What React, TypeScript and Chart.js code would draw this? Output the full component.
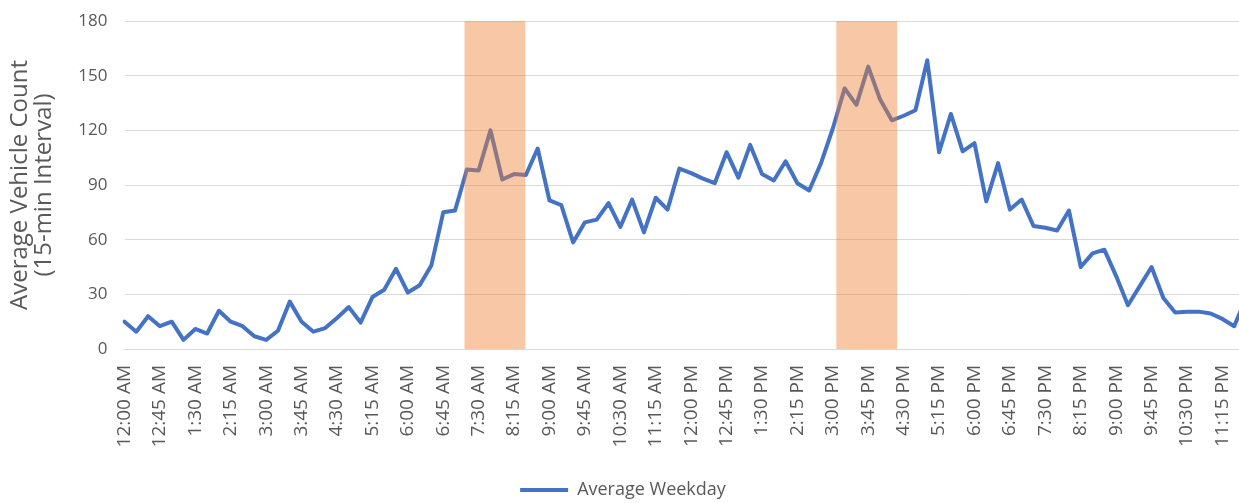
import React, { useEffect, useRef } from "react";
import { Chart, registerables } from "chart.js";

Chart.register(...registerables);

// 15-minute interval categories
const timeLabels = [
  "12:00 AM", "12:15 AM", "12:30 AM", "12:45 AM",
  "1:00 AM", "1:15 AM", "1:30 AM", "1:45 AM",
  "2:00 AM", "2:15 AM", "2:30 AM", "2:45 AM",
  "3:00 AM", "3:15 AM", "3:30 AM", "3:45 AM",
  "4:00 AM", "4:15 AM", "4:30 AM", "4:45 AM",
  "5:00 AM", "5:15 AM", "5:30 AM", "5:45 AM",
  "6:00 AM", "6:15 AM", "6:30 AM", "6:45 AM",
  "7:00 AM", "7:15 AM", "7:30 AM", "7:45 AM",
  "8:00 AM", "8:15 AM", "8:30 AM", "8:45 AM",
  "9:00 AM", "9:15 AM", "9:30 AM", "9:45 AM",
  "10:00 AM", "10:15 AM", "10:30 AM", "10:45 AM",
  "11:00 AM", "11:15 AM", "11:30 AM", "11:45 AM",
  "12:00 PM", "12:15 PM", "12:30 PM", "12:45 PM",
  "1:00 PM", "1:15 PM", "1:30 PM", "1:45 PM",
  "2:00 PM", "2:15 PM", "2:30 PM", "2:45 PM",
  "3:00 PM", "3:15 PM", "3:30 PM", "3:45 PM",
  "4:00 PM", "4:15 PM", "4:30 PM", "4:45 PM",
  "5:00 PM", "5:15 PM", "5:30 PM", "5:45 PM",
  "6:00 PM", "6:15 PM", "6:30 PM", "6:45 PM",
  "7:00 PM", "7:15 PM", "7:30 PM", "7:45 PM",
  "8:00 PM", "8:15 PM", "8:30 PM", "8:45 PM",
  "9:00 PM", "9:15 PM", "9:30 PM", "9:45 PM",
  "10:00 PM", "10:15 PM", "10:30 PM", "10:45 PM",
  "11:00 PM", "11:15 PM", "11:30 PM", "11:45 PM",
];

// Average Weekday vehicle counts (per 15-min interval)
const averageWeekday = [
  15, 9.5, 18, 12.5, 15, 5, 11, 8.5,
  21, 15, 12.5, 7, 5, 10, 26, 15,
  9.5, 11.5, 17, 23, 14.5, 28.5, 32.5, 44,
  31, 35, 46, 75, 76, 98.5, 98, 120,
  93, 96, 95.5, 110, 81.5, 79, 58.5, 69.5,
  71, 80, 67, 82, 64, 83, 76.5, 99,
  96.5, 93.5, 91, 108, 94, 112, 96, 92.5,
  103, 91, 87, 102, 121, 143, 134, 155,
  137, 125.5, 128, 131, 158.5, 108, 129, 108.5,
  113, 81, 102, 76.5, 82, 67.5, 66.5, 65,
  76, 45, 52.5, 54.5, 40, 24, 34.5, 45,
  28, 20, 20.5, 20.5, 19.5, 16.5, 12.5, 28,
];

// Y axis range
const yMin = 0;
const yMax = 180;
const yStep = 30;

// Peak-period windows (in category index units on the time axis)
const peakStart = [28.8, 60.3];
const peakEnd = [33.95, 65.45];

const peakShadePlugin = {
  id: "peakShade",
  afterDatasetsDraw(chart: any) {
    const { ctx, chartArea, scales } = chart;
    const xs = scales.x;
    ctx.save();
    ctx.fillStyle = "rgba(237,125,49,0.43)";
    peakStart.forEach((s, k) => {
      const x0 = xs.getPixelForValue(s);
      const x1 = xs.getPixelForValue(peakEnd[k]);
      ctx.fillRect(x0, chartArea.top, x1 - x0, chartArea.bottom - chartArea.top);
    });
    ctx.restore();
  },
};

export default function App() {
  const canvasRef = useRef<HTMLCanvasElement | null>(null);

  useEffect(() => {
    if (!canvasRef.current) return;
    const font = "'Open Sans', 'Noto Sans', sans-serif";
    const chart = new Chart(canvasRef.current, {
      type: "line",
      data: {
        labels: timeLabels,
        datasets: [
          {
            label: "Average Weekday",
            data: averageWeekday,
            borderColor: "#4472C4",
            backgroundColor: "#4472C4",
            borderWidth: 4,
            pointRadius: 0,
            pointHoverRadius: 0,
            tension: 0,
            borderJoinStyle: "round",
            borderCapStyle: "round",
            fill: false,
          },
        ],
      },
      options: {
        responsive: false,
        animation: false,
        layout: { padding: { top: 21, left: 0, right: 4, bottom: 0 } },
        scales: {
          x: {
            grid: { display: false, drawTicks: false },
            border: { display: true, color: "#d9d9d9", width: 1 },
            afterFit: (s: any) => {
              s.height = 122;
              s.paddingLeft = 0;
              s.paddingRight = 0;
            },
            ticks: {
              autoSkip: false,
              maxRotation: 90,
              minRotation: 90,
              padding: 16,
              color: "#595959",
              font: { family: font, size: 19 },
              callback: (_v: any, i: number) => (i % 3 === 0 ? timeLabels[i] : ""),
            },
          },
          y: {
            min: yMin,
            max: yMax,
            afterFit: (s: any) => {
              s.width = 124.5;
              s.paddingTop = 0;
              s.paddingBottom = 0;
            },
            ticks: {
              stepSize: yStep,
              padding: 17,
              color: "#595959",
              font: { family: font, size: 17 },
            },
            grid: { color: "#d9d9d9", drawTicks: false },
            border: { display: false },
            title: {
              display: true,
              text: ["Average Vehicle Count", "(15-min Interval)"],
              color: "#595959",
              font: { family: font, size: 24, lineHeight: 1.0 },
              padding: { top: 8, bottom: 22 },
            },
          },
        },
        plugins: {
          legend: {
            position: "bottom",
            labels: {
              usePointStyle: true,
              pointStyle: "line",
              pointStyleWidth: 48,
              padding: 10,
              color: "#595959",
              font: { family: font, size: 18 },
            },
          },
          tooltip: { enabled: false },
        },
      },
      plugins: [peakShadePlugin],
    });
    return () => chart.destroy();
  }, []);

  return (
    <div
      style={{
        position: "fixed",
        left: 0,
        top: 0,
        width: 1239,
        height: 503,
        overflow: "hidden",
        background: "#ffffff",
      }}
    >
      <canvas ref={canvasRef} width={1250} height={509} style={{ display: "block" }} />
    </div>
  );
}
